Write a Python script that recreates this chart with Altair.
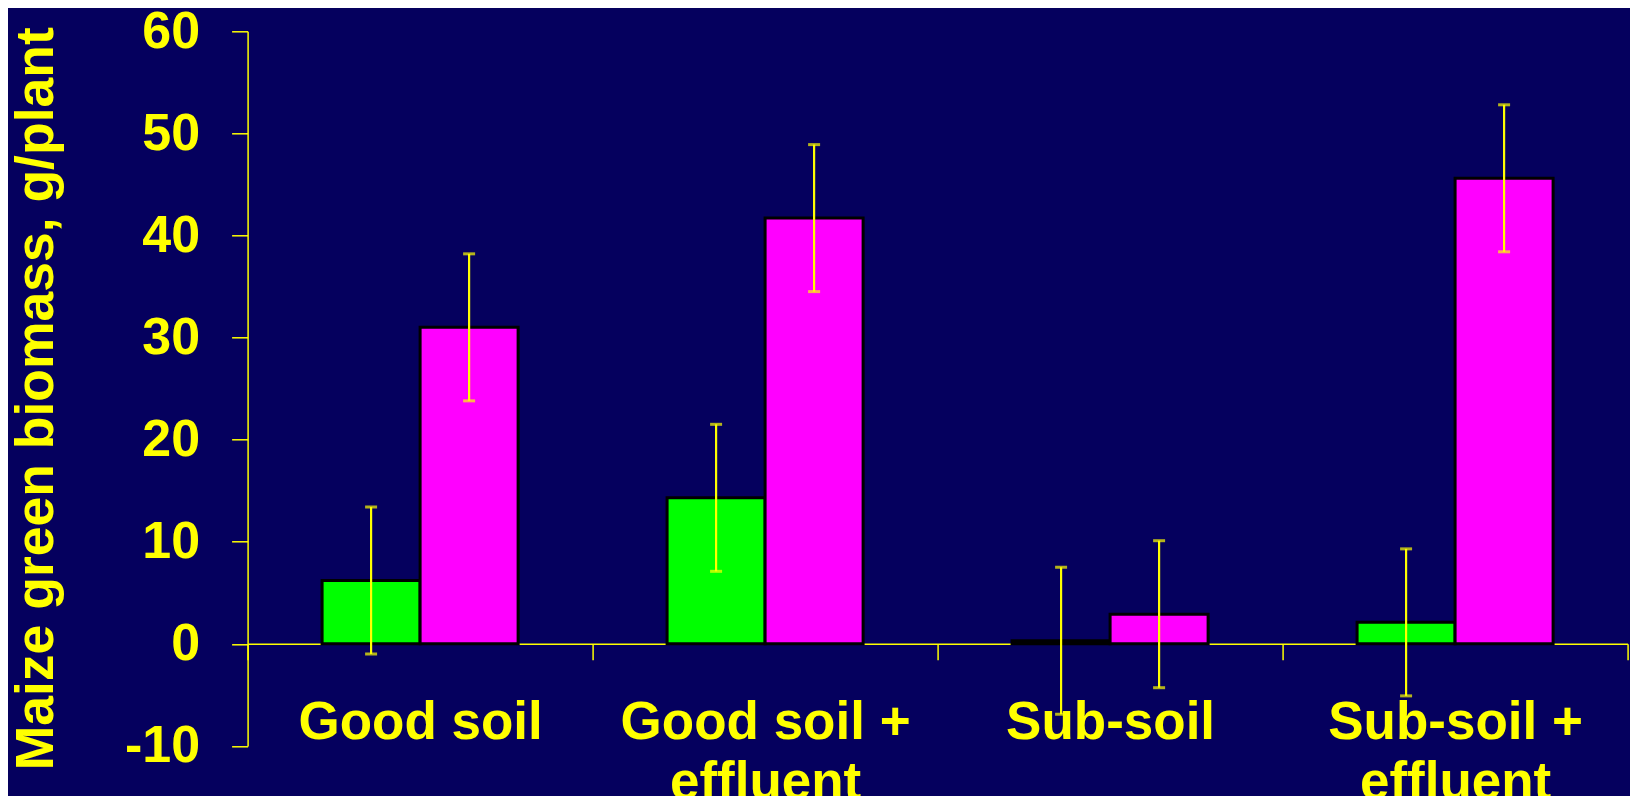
import altair as alt
import pandas as pd

# ---- data ----
categories = ["Good soil", "Good soil + effluent", "Sub-soil", "Sub-soil + effluent"]
series = ["Series 1", "Series 2"]
green_vals = [6.2, 14.3, 0.3, 2.1]
magenta_vals = [31.0, 41.7, 2.9, 45.6]
green_err = [7.2, 7.2, 7.2, 7.2]
magenta_err = [7.2, 7.2, 7.2, 7.2]
y_ticks = [-10, 0, 10, 20, 30, 40, 50, 60]
y_title = "Maize green biomass, g/plant"

rows = []
for i, c in enumerate(categories):
    for s, vals, errs in ((series[0], green_vals, green_err), (series[1], magenta_vals, magenta_err)):
        rows.append({"cat": c, "series": s, "val": vals[i],
                     "lo": vals[i] - errs[i], "hi": vals[i] + errs[i]})
df = pd.DataFrame(rows)

YELLOW = "#FFFF00"
BG = "#05005E"
FONT = "Liberation Sans"

W, H = 1380, 714.6
zero_offset = H * 10 / 70  # distance from plot bottom to y=0

x_axis = alt.Axis(
    title=None, orient="bottom", offset=-zero_offset, tickBand="extent",
    tickSize=16, tickColor=YELLOW, tickWidth=1.5, domainColor=YELLOW, domainWidth=1.5,
    labelColor=YELLOW, labelFont=FONT, labelFontWeight="bold", labelFontSize=53,
    labelAngle=0, labelPadding=37, labelLineHeight=60, labelLimit=500,
    labelOverlap=False,
    labelExpr="indexof(datum.label,'+')>0 ? [slice(datum.label,0,indexof(datum.label,'+')+1), trim(slice(datum.label,indexof(datum.label,'+')+1))] : datum.label",
)
y_axis = alt.Axis(
    title=y_title, values=y_ticks, grid=False,
    tickSize=16, tickColor=YELLOW, tickWidth=1.5, domainColor=YELLOW, domainWidth=1.5,
    labelColor=YELLOW, labelFont=FONT, labelFontWeight="bold", labelFontSize=52,
    labelPadding=32, labelExpr="toString(datum.value)",
    titleColor=YELLOW, titleFont=FONT, titleFontWeight="bold", titleFontSize=53.5,
    titleAngle=270, titleAlign="center", titleBaseline="alphabetic",
    titleX=-195, titleY=367,
)
y_scale = alt.Scale(domain=[-10, 60], nice=False, zero=False)

base = alt.Chart(df).encode(
    x=alt.X("cat:N", sort=categories, scale=alt.Scale(paddingInner=0, paddingOuter=0), axis=x_axis),
    xOffset=alt.XOffset("series:N", sort=series,
                        scale=alt.Scale(domain=series, paddingInner=0, paddingOuter=0.76)),
)

bars = base.mark_bar(stroke="black", strokeWidth=3).encode(
    y=alt.Y("val:Q", scale=y_scale, axis=y_axis),
    color=alt.Color("series:N", scale=alt.Scale(domain=series, range=["#00FF00", "#FF00FF"]), legend=None),
)
rules = base.mark_rule(color=YELLOW, strokeWidth=2.2).encode(
    y=alt.Y("lo:Q", scale=y_scale, axis=y_axis), y2="hi:Q"
)
caps_hi = base.mark_tick(color=YELLOW, thickness=3, size=12, orient="horizontal").encode(
    y=alt.Y("hi:Q", scale=y_scale, axis=y_axis)
)
caps_lo = base.mark_tick(color=YELLOW, thickness=3, size=12, orient="horizontal").encode(
    y=alt.Y("lo:Q", scale=y_scale, axis=y_axis)
)

chart = alt.layer(bars, rules, caps_hi, caps_lo).properties(
    width=W, height=H,
    autosize=alt.AutoSizeParams(type="none"),
    padding={"left": 239.6, "top": 23.3, "right": 2, "bottom": 50},
    background=BG,
).configure_view(stroke=None)

chart.save("out.html", embed_options={"renderer": "svg", "actions": False})
